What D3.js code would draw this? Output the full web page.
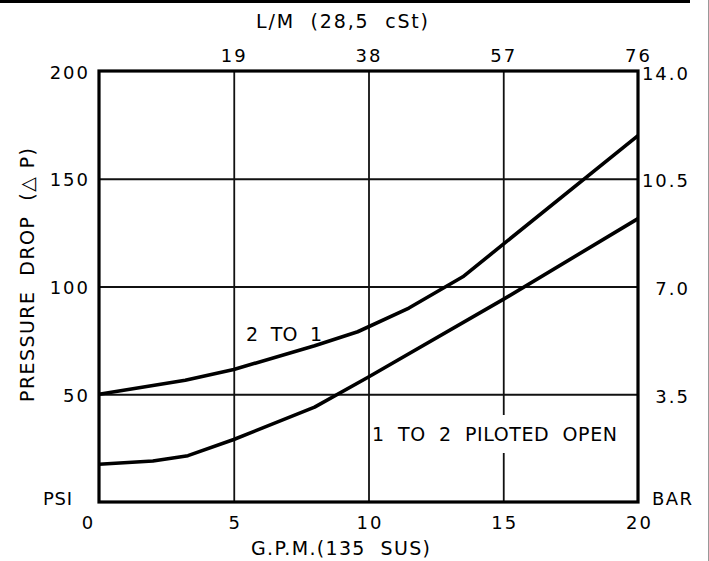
<!DOCTYPE html>
<html lang="en">
<head>
  <meta charset="utf-8">
  <title>Pressure drop</title>
  <script src="https://d3js.org/d3.v7.min.js"></script>
  <style>
    body { margin: 0; background: #fff; }
    text { font-family: "DejaVu Sans", sans-serif; fill: #000; }
  </style>
</head>
<body>
	<script type="text/javascript">

		// gpm values and pressure drop (psi)
		var gpm_2to1 = [0, 3.2, 5, 8, 9.6, 11.5, 13.5, 20];
		var psi_2to1 = [50, 56.5, 61.5, 72.5, 79, 90, 104.5, 170];
		var gpm_1to2 = [0, 2, 3.3, 5, 8, 10, 15, 20];
		var psi_1to2 = [17.5, 19, 21.5, 29, 44, 58, 94, 131.5];

		// tick labels
		var gpmTicks = [0, 5, 10, 15, 20];
		var lpmTicks = [19, 38, 57, 76];
		var psiTicks = [50, 100, 150, 200];
		var barTicks = [3.5, 7, 10.5, 14];

		// plot box
		var margin = {top: 71, right: 71, bottom: 59, left: 99};
		var outer_width = 709;
		var outer_height = 561;
		var w = outer_width - margin.left - margin.right;
		var h = outer_height - margin.top - margin.bottom;

		var root = d3.select("body")
					.append("svg")
					.attr("width", outer_width)
					.attr("height", outer_height);

		// heading rule and right edge line
		root.append("line")
			.attr("x1", 0).attr("x2", 690).attr("y1", 1.5).attr("y2", 1.5)
			.attr("stroke", "#000").attr("stroke-width", 3);
		root.append("line")
			.attr("x1", 708.5).attr("x2", 708.5).attr("y1", 0).attr("y2", outer_height)
			.attr("stroke", "#999").attr("stroke-width", 1);

		var svg = root.append("g")
					.attr("transform", "translate(" + margin.left + "," + margin.top + ")");

		var xScale = d3.scaleLinear().domain([0, 20]).range([0, w]);
		var xTop = d3.scaleLinear().domain([0, 76]).range([0, w]);
		var yScale = d3.scaleLinear().domain([0, 200]).range([h, 0]);
		var yBar = d3.scaleLinear().domain([0, 14]).range([h, 0]);

		// grid
		svg.append("g")
			.attr("transform", "translate(0," + h + ")")
			.call(d3.axisBottom(xScale).tickValues([5, 10, 15]).tickSize(-h).tickFormat(""));
		svg.append("g")
			.call(d3.axisLeft(yScale).tickValues([50, 100, 150]).tickSize(-w).tickFormat(""));
		svg.selectAll(".domain").remove();
		svg.selectAll(".tick line").attr("stroke", "#111").attr("stroke-width", 1.8);

		// curves
		var line = d3.line()
			.x(function(d) { return xScale(d[0]); })
			.y(function(d) { return yScale(d[1]); });

		var series = [d3.zip(gpm_2to1, psi_2to1), d3.zip(gpm_1to2, psi_1to2)];
		svg.selectAll("path.curve")
			.data(series)
			.enter()
			.append("path")
			.attr("class", "curve")
			.attr("d", line)
			.attr("fill", "none")
			.attr("stroke", "#000")
			.attr("stroke-width", 3.6)
			.attr("stroke-linejoin", "round");

		// frame
		svg.append("rect")
			.attr("width", w).attr("height", h)
			.attr("fill", "none").attr("stroke", "#000").attr("stroke-width", 3.2);

		function styleLabels(g) {
			g.select(".domain").remove();
			g.selectAll("text")
				.attr("font-size", "18px")
				.style("letter-spacing", "2px");
		}

		// bottom labels
		var bottomAxis = svg.append("g")
			.attr("transform", "translate(0," + h + ")")
			.call(d3.axisBottom(xScale).tickValues(gpmTicks).tickSize(0))
			.call(styleLabels);
		bottomAxis.selectAll("text")
			.attr("y", 27).attr("dy", 0)
			.attr("x", function(d) { return d === 0 ? -11 : 1; });

		// top labels
		var topAxis = svg.append("g")
			.call(d3.axisTop(xTop).tickValues(lpmTicks).tickSize(0))
			.call(styleLabels);
		topAxis.selectAll("text").attr("y", -9).attr("dy", 0).attr("x", 0);

		// left labels
		var leftAxis = svg.append("g")
			.call(d3.axisLeft(yScale).tickValues(psiTicks).tickSize(0))
			.call(styleLabels);
		leftAxis.selectAll("text").attr("x", -9).attr("dy", "0.4em");

		// right labels
		var rightAxis = svg.append("g")
			.attr("transform", "translate(" + w + ",0)")
			.call(d3.axisRight(yBar).tickValues(barTicks).tickSize(0).tickFormat(d3.format(".1f")))
			.call(styleLabels);
		rightAxis.selectAll("text")
			.attr("text-anchor", "end")
			.attr("x", 52).attr("dy", "0.45em");

		// titles and notes
		function note(x, y, str, len, size) {
			var t = root.append("text")
				.attr("x", x).attr("y", y)
				.attr("font-size", size + "px")
				.style("white-space", "pre")
				.text(str);
			if (len) t.attr("textLength", len).attr("lengthAdjust", "spacing");
			return t;
		}

		note(256, 28, "L/M  (28,5  cSt)", 172, 19);
		note(251, 555, "G.P.M.(135  SUS)", 179, 19);
		note(43, 505, "PSI", 29, 18);
		note(652, 505, "BAR", 40, 18);
		note(246, 341, "2  TO  1", 76, 19);

		// white patch behind the second note cuts the 15 gpm grid line
		root.append("rect")
			.attr("x", 372).attr("y", 415).attr("width", 250).attr("height", 38)
			.attr("fill", "#fff");
		note(372, 441, "1  TO  2  PILOTED  OPEN", 245, 19);

		root.append("text")
			.attr("transform", "translate(34,275) rotate(-90)")
			.attr("text-anchor", "middle")
			.attr("font-size", "19px")
			.style("white-space", "pre")
			.attr("textLength", 254)
			.attr("lengthAdjust", "spacing")
			.text("PRESSURE  DROP  (\u25B3 P)");
	</script>
</body>
</html>
